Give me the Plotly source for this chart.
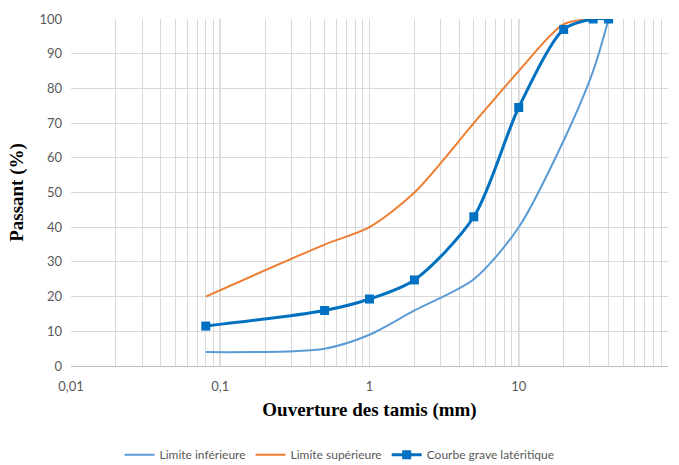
import plotly.graph_objects as go

# Sieve openings (mm)
sieves = [0.08, 0.5, 1, 2, 5, 10, 20, 31.5, 40]
lower_limit = [4, 5, 9, 16, 25, 40, 65, 85, 100]
upper_limit = [20, 35, 40, 50, 70, 85, 98.5, 100, 100]
grave_lateritique = [11.5, 16, 19.3, 24.8, 43, 74.5, 97, 100, 100]

x_major = [0.01, 0.1, 1, 10, 100]
x_major_labels = ["0,01", "0,1", "1", "10", "100"]
y_ticks = list(range(0, 101, 10))

# all log grid positions
grid_vals = []
for d in [0.01, 0.1, 1, 10]:
    for k in range(1, 10):
        grid_vals.append(round(d * k, 6))
grid_vals.append(100)
grid_text = [x_major_labels[x_major.index(v)] if v in x_major else "" for v in grid_vals]

fig = go.Figure()
fig.add_trace(go.Scatter(
    x=sieves, y=lower_limit, mode="lines", name="Limite inférieure",
    line=dict(color="#5B9BD5", width=2, shape="spline", smoothing=0.8)))
fig.add_trace(go.Scatter(
    x=sieves, y=upper_limit, mode="lines", name="Limite supérieure",
    line=dict(color="#ED7D31", width=2, shape="spline", smoothing=0.8)))
fig.add_trace(go.Scatter(
    x=sieves, y=grave_lateritique, mode="lines+markers", name="Courbe grave latéritique",
    line=dict(color="#0070C0", width=3, shape="spline", smoothing=0.8),
    marker=dict(symbol="square", size=9, color="#0070C0")))

for v in [0.1, 1, 10]:
    fig.add_vline(x=v, line=dict(color="#8c8c8c", width=1), layer="below")

fig.update_layout(
    width=679, height=465,
    margin=dict(l=71, r=11, t=13, b=99),
    paper_bgcolor="white", plot_bgcolor="white",
    separators=", ",
    font=dict(family="Lato, Open Sans, sans-serif", size=13, color="#595959"),
    xaxis=dict(
        type="log", range=[-2, 2],
        tickvals=grid_vals, ticktext=grid_text, ticks="",
        showgrid=True, gridcolor="#d9d9d9", gridwidth=1,
        showline=True, linecolor="#bfbfbf", linewidth=1,
        zeroline=False,
        tickfont=dict(size=13, color="#595959"),
        ticklabelstandoff=8,
        title=dict(text="Ouverture des tamis (mm)",
                   font=dict(family="Liberation Serif, Times New Roman, serif", size=19, color="black", weight="bold"),
                   standoff=10),
    ),
    yaxis=dict(
        range=[0, 100], tickvals=y_ticks, ticks="",
        showgrid=True, gridcolor="#d9d9d9", gridwidth=1,
        showline=False, zeroline=False,
        tickfont=dict(size=13, color="#595959"),
        ticklabelstandoff=8,
        title=dict(text="Passant (%)",
                   font=dict(family="Liberation Serif, Times New Roman, serif", size=19, color="black", weight="bold"),
                   standoff=10),
    ),
    legend=dict(
        orientation="h", xref="container", yref="container",
        x=0.5, xanchor="center", y=0.022, yanchor="middle",
        font=dict(size=12, color="#595959"),
        tracegroupgap=0,
    ),
    showlegend=True,
)

fig.write_html("out.html")
